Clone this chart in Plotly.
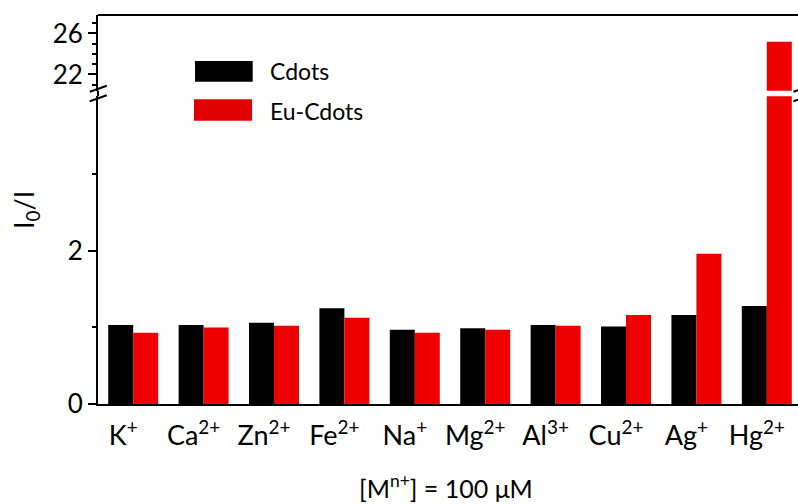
import plotly.graph_objects as go

ions = ["K<sup>+</sup>", "Ca<sup>2+</sup>", "Zn<sup>2+</sup>", "Fe<sup>2+</sup>", "Na<sup>+</sup>",
        "Mg<sup>2+</sup>", "Al<sup>3+</sup>", "Cu<sup>2+</sup>", "Ag<sup>+</sup>", "Hg<sup>2+</sup>"]
cdots = [1.03, 1.03, 1.06, 1.25, 0.97, 0.99, 1.03, 1.01, 1.16, 1.28]
eu_cdots = [0.93, 1.00, 1.02, 1.125, 0.93, 0.97, 1.02, 1.16, 1.96, 25.2]

BLACK = "#000000"
RED = "#EE0000"
FONT = "Lato"

W, H = 798, 504
ML, MR, MT, MB = 98, 0, 15, 100
PW, PH = W - ML - MR, H - MT - MB


def px(x):
    return (x - ML) / PW


def py(y):
    return (H - MB - y) / PH


fig = go.Figure()
for yax in ["y", "y2"]:
    fig.add_trace(go.Bar(x=ions, y=cdots, name="Cdots", marker=dict(color=BLACK, line_width=0),
                         yaxis=yax, xaxis="x", showlegend=False))
    fig.add_trace(go.Bar(x=ions, y=eu_cdots, name="Eu-Cdots", marker=dict(color=RED, line_width=0),
                         yaxis=yax, xaxis="x", showlegend=False))

low_top = py(96.3)
up_bot = py(90.7)

fig.update_layout(
    width=W, height=H,
    margin=dict(l=ML, r=MR, t=MT, b=MB, pad=0),
    paper_bgcolor="white", plot_bgcolor="white",
    barmode="group", bargap=0.29, bargroupgap=0,
    font=dict(family=FONT, color="black"),
    xaxis=dict(
        type="category", range=[-0.5, 9.443], anchor="y",
        showline=True, linecolor="black", linewidth=2,
        ticks="", showgrid=False, zeroline=False,
        tickfont=dict(size=27, family=FONT, color="black"),
        ticklabelshift=-10, ticklabelstandoff=7,
    ),
    yaxis=dict(
        domain=[0, low_top], range=[0, 4.016], anchor="x",
        showline=True, linecolor="black", linewidth=2,
        ticks="outside", ticklen=8, tickwidth=2, tickcolor="black",
        tickvals=[0, 2], ticktext=["0", "2"],
        minor=dict(tickvals=[1, 3], ticklen=4, tickwidth=2, tickcolor="black", ticks="outside"),
        showgrid=False, zeroline=False,
        tickfont=dict(size=26, family=FONT, color="black"),
    ),
    yaxis2=dict(
        domain=[up_bot, 1], range=[20.42, 27.8], anchor="x",
        showline=True, linecolor="black", linewidth=2,
        ticks="outside", ticklen=8, tickwidth=2, tickcolor="black",
        tickvals=[22, 26], ticktext=["22", "26"],
        minor=dict(tickvals=[21, 23, 24, 25, 27], ticklen=4, tickwidth=2, tickcolor="black", ticks="outside"),
        showgrid=False, zeroline=False,
        tickfont=dict(size=26, family=FONT, color="black"),
    ),
)

shapes = []
# top frame line
shapes.append(dict(type="line", xref="paper", yref="paper", x0=0, x1=1.01, y0=1, y1=1,
                   line=dict(color="black", width=2)))
# connect left axis through break
shapes.append(dict(type="line", xref="paper", yref="paper", x0=0, x1=0, y0=low_top, y1=up_bot,
                   line=dict(color="black", width=2)))
# break marks (left and right)
for xc in [98.3, 802]:
    for yc in [88.7, 98.3]:
        shapes.append(dict(type="line", xref="paper", yref="paper",
                           x0=px(xc - 8.5), y0=py(yc + 3), x1=px(xc + 8.5), y1=py(yc - 3),
                           line=dict(color="black", width=2)))
# legend swatches
shapes.append(dict(type="rect", xref="paper", yref="paper", x0=px(195), x1=px(252.7), y0=py(81.7), y1=py(61),
                   fillcolor=BLACK, line_width=0))
shapes.append(dict(type="rect", xref="paper", yref="paper", x0=px(194), x1=px(252), y0=py(120.7), y1=py(99.3),
                   fillcolor="#E00000", line_width=0))
fig.update_layout(shapes=shapes)

annotations = [
    dict(text="Cdots", x=px(268), y=py(71), xref="paper", yref="paper", xanchor="left", yanchor="middle",
         showarrow=False, font=dict(size=23, family=FONT, color="black")),
    dict(text="Eu-Cdots", x=px(268), y=py(111), xref="paper", yref="paper", xanchor="left", yanchor="middle",
         showarrow=False, font=dict(size=23, family=FONT, color="black")),
    dict(text="I<sub>0</sub>/I", x=px(26), y=py(210), xref="paper", yref="paper", xanchor="center", yanchor="middle",
         textangle=-90, showarrow=False, font=dict(size=27, family=FONT, color="black")),
    dict(text="[M<sup>n+</sup>] = 100 μM", x=px(446), y=py(486), xref="paper", yref="paper",
         xanchor="center", yanchor="middle", showarrow=False, font=dict(size=25, family=FONT, color="black")),
]
fig.update_layout(annotations=annotations)

fig.write_html("out.html")
